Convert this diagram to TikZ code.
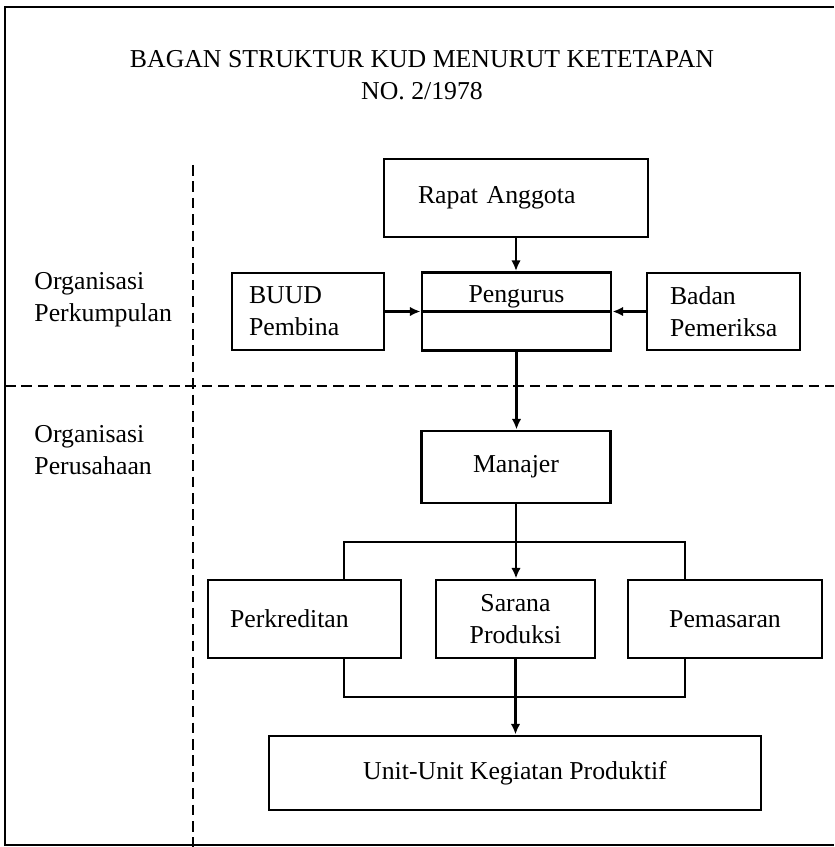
\documentclass[tikz,border=0pt]{standalone}
\usepackage{fontspec}
\setmainfont{Liberation Serif}
\usetikzlibrary{arrows.meta}

\begin{document}
\begin{tikzpicture}[x=0.03cm,y=-0.03cm,line width=2.5pt]

\tikzstyle{teks} = [font=\fontsize{22}{27.3}\selectfont, inner sep=0pt]
\tikzstyle{kotak} = [teks, draw, line width=2.5pt, minimum height=2.34cm]
\tikzstyle{garis} = [line width=2.5pt, -{Latex[length=9pt,width=8pt]}]
\tikzstyle{batas} = [line width=2.2pt, dash pattern=on 9pt off 5pt]

\useasboundingbox (0,0) rectangle (834,847);

% bingkai
\draw [line width=2pt] (834,7) -- (5,7) -- (5,845) -- (834,845);
\draw [batas] (193,165) -- (193,847);
\draw [batas] (5,386) -- (834,386);

\node (judul) [teks, align=center, at={(422,75)}]
  {BAGAN STRUKTUR KUD MENURUT KETETAPAN\\NO. 2/1978};

\node (perkumpulan) [teks, anchor=west, align=left, at={(33,300)}]
  {Organisasi\\Perkumpulan};
\node (perusahaan) [teks, anchor=west, align=left, at={(33,450)}]
  {Organisasi\\Perusahaan};

% organisasi perkumpulan
\node (rapat) [kotak, at={(516,198)}, text width=5.88cm, inner xsep=1.02cm,
  align=left] {Rapat Anggota};
\node (pengurus) [kotak, at={(516.5,311.5)}, minimum width=5.67cm,
  text height=0.87cm, text depth=1.44cm] {Pengurus};
\node (buud) [kotak, at={(308,311.5)}, minimum height=2.31cm,
  text width=3.54cm, inner xsep=0.51cm, align=left] {BUUD\\Pembina};
\node (badan) [kotak, at={(723.5,311.5)}, minimum height=2.31cm,
  text width=3.21cm, inner xsep=0.69cm, align=left] {Badan\\Pemeriksa};

% organisasi perusahaan
\node (manajer) [kotak, at={(516,467)}, minimum width=5.67cm,
  minimum height=2.16cm] {Manajer};
\node (perkreditan) [kotak, at={(304.5,619)}, text width=4.47cm,
  inner xsep=0.66cm, align=left] {Perkreditan};
\node (sarana) [kotak, at={(515.5,619)}, minimum width=4.77cm,
  align=center] {Sarana\\Produksi};
\node (pemasaran) [kotak, at={(725,619)}, minimum width=5.82cm] {Pemasaran};
\node (unit) [kotak, at={(515,773)}, minimum width=14.76cm,
  minimum height=2.22cm] {Unit-Unit Kegiatan Produktif};

\coordinate (kiri) at (344,542);
\coordinate (kanan) at (685,542);
\coordinate (kiribawah) at (344,697);
\coordinate (kananbawah) at (685,697);

\draw [garis] (rapat.south) -- (rapat.south |- pengurus.north);
\draw [garis] (buud.east) -- (buud.east -| pengurus.west);
\draw [garis] (badan.west) -- (badan.west -| pengurus.east);
\draw (buud.east -| pengurus.west) -- (badan.west -| pengurus.east);
\draw [garis] (pengurus.south) -- (pengurus.south |- manajer.north);

\draw [garis] (manajer.south) -- (manajer.south |- sarana.north);
\draw (kiri |- perkreditan.north) -- (kiri) -- (kanan)
  -- (kanan |- pemasaran.north);
\draw (kiri |- perkreditan.south) -- (kiribawah) -- (kananbawah)
  -- (kanan |- pemasaran.south);
\draw [garis] (sarana.south) -- (sarana.south |- unit.north);

\end{tikzpicture}
\end{document}
